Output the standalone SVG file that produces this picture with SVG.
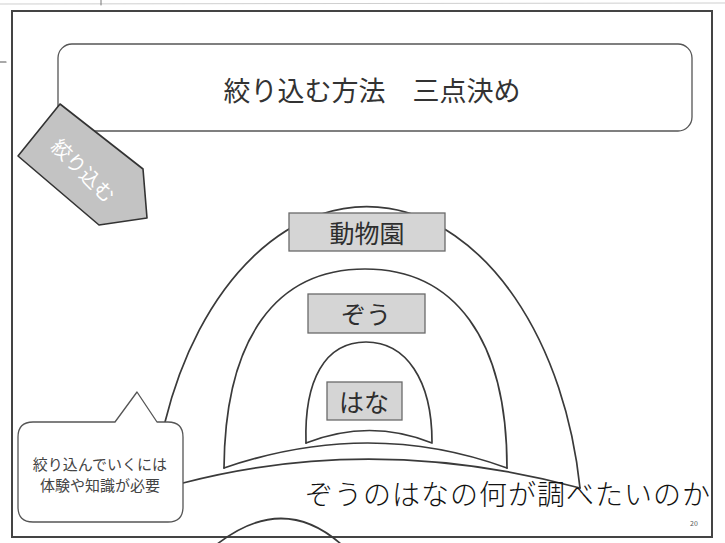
<svg xmlns="http://www.w3.org/2000/svg" width="725" height="543" viewBox="0 0 725 543">
  <defs>
    <style>
      .jp { font-family: "Noto Sans CJK JP", "Noto Sans", sans-serif; }
      .line { fill: none; stroke: #3a3a3a; stroke-width: 1.7; stroke-linecap: round; }
      .box { fill: #d5d5d5; stroke: #6a6a6a; stroke-width: 1.3; }
      .lbl { font-size: 25px; fill: #2e2e2e; text-anchor: middle; dominant-baseline: central; }
    </style>
    <clipPath id="clipFrame">
      <rect x="12" y="11" width="699" height="526"/>
    </clipPath>
  </defs>

  <rect width="725" height="543" fill="#ffffff"/>

  <!-- scan marks outside the frame -->
  <g id="marks" stroke-linecap="round">
    <line x1="0" y1="4" x2="725" y2="3" stroke="#cfcfcf" stroke-width="1"/>
    <line x1="101" y1="0" x2="101" y2="5" stroke="#777" stroke-width="1"/>
    <line x1="0" y1="62" x2="6" y2="62" stroke="#555" stroke-width="1.2"/>
  </g>

  <!-- slide frame -->
  <rect id="frame" x="12" y="11" width="700" height="526" fill="#ffffff" stroke="#444" stroke-width="2"/>

  <!-- title -->
  <g id="title">
    <rect x="58" y="44" width="634" height="87" rx="14" ry="14" fill="#ffffff" stroke="#555" stroke-width="1.3"/>
    <text class="jp" x="372" y="101" font-size="27" fill="#333" text-anchor="middle">絞り込む方法　三点決め</text>
  </g>

  <!-- pentagon arrow -->
  <g id="arrow">
    <polygon points="60,104 143,169 147,218 99,225 18,156" fill="#c3c3c3" stroke="#333" stroke-width="1.6" stroke-linejoin="round"/>
    <text class="jp" x="0" y="0" font-size="20" fill="#ffffff" text-anchor="middle" dominant-baseline="central" transform="translate(84,170) rotate(45)">絞り込む</text>
  </g>

  <!-- arches and ground lines -->
  <g id="connectors">
    <path class="line" d="M165,422 A216,335 0 0 1 580,488"/>
    <path class="line" d="M224,468 C225,338 276,269 365,269 C454,269 507,338 507,468"/>
    <path class="line" d="M306,443 C304,380 325,342 366,342 C406,342 432,380 432,442"/>
    <path class="line" d="M306,443 Q370,418 432,443"/>
    <path class="line" d="M224,468 Q370,418 507,468"/>
    <path class="line" d="M183,483 Q375,433 580,488"/>
    <path class="line" d="M216,545 Q283,492 342,545"/>
  </g>

  <!-- nodes -->
  <g id="node-zoo">
    <rect class="box" x="289" y="213" width="156" height="38"/>
    <text class="jp lbl" x="367" y="232">動物園</text>
  </g>
  <g id="node-zou">
    <rect class="box" x="308" y="294" width="117" height="39"/>
    <text class="jp lbl" x="366" y="313">ぞう</text>
  </g>
  <g id="node-hana">
    <rect class="box" x="327" y="382" width="75" height="38"/>
    <text class="jp lbl" x="364" y="401">はな</text>
  </g>

  <!-- callout -->
  <g id="callout">
    <path d="M33,422 H115 L137,392 L157,422 H168 Q183,422 183,437 V507 Q183,522 168,522 H33 Q18,522 18,507 V437 Q18,422 33,422 Z" fill="#ffffff" stroke="#555" stroke-width="1.3" stroke-linejoin="round"/>
    <text class="jp" x="100" y="470" font-size="15" fill="#444" text-anchor="middle">絞り込んでいくには</text>
    <text class="jp" x="100" y="491" font-size="15" fill="#444" text-anchor="middle">体験や知識が必要</text>
  </g>

  <!-- handwritten note -->
  <g id="note" clip-path="url(#clipFrame)">
    <text class="jp" x="305" y="505" font-size="28" font-weight="300" fill="#111" letter-spacing="1">ぞうのはなの何が調べたいのか</text>
  </g>

  <text id="page" class="jp" x="690" y="526" font-size="7" fill="#555">20</text>
</svg>
